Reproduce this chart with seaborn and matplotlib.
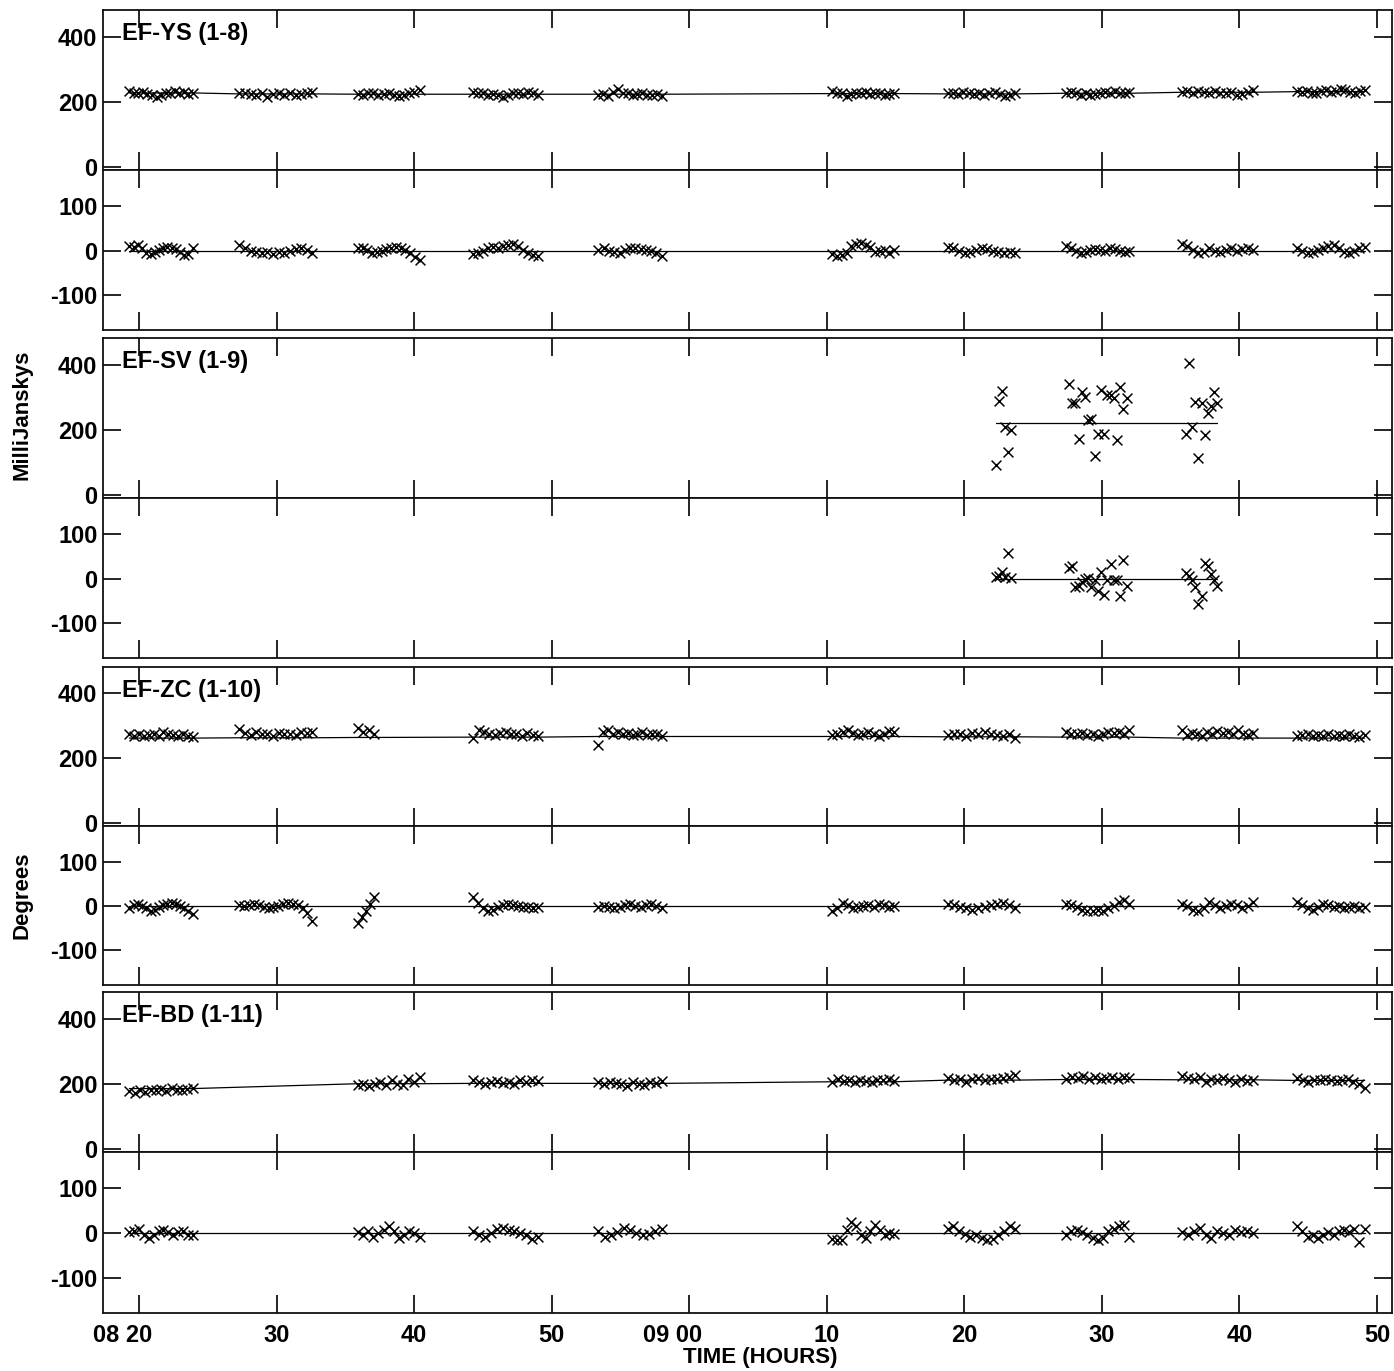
import numpy as np
import pandas as pd
import matplotlib
matplotlib.use("Agg")
import matplotlib.pyplot as plt
import seaborn as sns
from matplotlib.transforms import ScaledTranslation, blended_transform_factory

sns.set_style("ticks")
plt.rcParams["font.family"] = ["Liberation Sans", "DejaVu Sans"]
plt.rcParams["font.weight"] = "bold"
plt.rcParams["text.color"] = "black"
plt.rcParams["axes.labelcolor"] = "black"
plt.rcParams["xtick.color"] = "black"
plt.rcParams["ytick.color"] = "black"

# ---------------- data (time in minutes after 08:00) ----------------
BASELINES = ["EF-YS (1-8)", "EF-SV (1-9)", "EF-ZC (1-10)", "EF-BD (1-11)"]

YS_START = [19.3, 27.3, 35.9, 44.3, 53.4, 70.4, 78.8, 87.4, 95.8, 104.2]
YS_END = [23.9, 32.6, 40.4, 49.0, 58.0, 74.9, 83.7, 92.0, 101.0, 109.1]
YS_MODEL = [227, 224, 223, 223, 223, 225, 224, 226, 229, 231]
YS_AMP = [
    [232, 228, 226, 230, 224, 220, 214, 222, 226, 228, 232, 226, 230, 224, 228],
    [228, 226, 224, 222, 228, 216, 224, 226, 220, 228, 222, 224, 226, 230],
    [224, 222, 226, 228, 220, 224, 226, 222, 218, 222, 226, 230, 236],
    [230, 226, 228, 222, 224, 220, 216, 222, 226, 228, 224, 230, 226, 222],
    [220, 224, 218, 230, 240, 226, 228, 222, 224, 226, 220, 222, 224, 218],
    [232, 228, 226, 218, 224, 228, 226, 230, 224, 228, 226, 220, 224, 228],
    [226, 228, 224, 230, 226, 224, 228, 222, 226, 230, 224, 218, 222, 226],
    [228, 230, 226, 222, 228, 220, 224, 226, 230, 228, 232, 226, 228, 230],
    [230, 232, 228, 234, 230, 226, 232, 228, 226, 230, 222, 224, 230, 236],
    [232, 230, 234, 228, 226, 232, 236, 230, 234, 238, 236, 230, 226, 232, 236],
]
YS_PHS = [
    [10, 8, 12, 5, -5, -8, -3, 2, 5, 8, 6, 4, -2, -10, -8, 5],
    [12, 5, 0, -2, -5, -3, -8, -2, -5, 0, 3, 5, 2, -5],
    [5, 6, 2, -5, -3, 0, 3, 5, 8, 6, 2, -5, -15, -22],
    [-8, -5, 0, 5, 8, 6, 10, 12, 15, 10, 2, -5, -10, -12],
    [2, 5, 0, -3, -5, 2, 5, 6, 4, 2, 0, -5, -12],
    [-8, -12, -10, -5, 10, 15, 18, 12, 8, -3, 0, 2, -5, 2],
    [8, 5, 0, -5, -3, 2, 5, 3, 0, -2, -5, -3, -5],
    [10, 5, 0, -5, -3, 2, 3, 2, 0, 5, 3, 0, -2, 0],
    [15, 10, 2, -5, -3, 5, 0, -2, 2, 5, 0, 3, 5, 2],
    [5, 0, -5, -3, 2, 5, 10, 12, 5, -2, -5, 0, 5, 8],
]

SV_START = [82.3, 87.6, 96.1]
SV_END = [83.4, 91.8, 98.4]
SV_MODEL = [222, 222, 222]
SV_AMP = [
    [92, 289, 320, 209, 132, 200],
    [341, 283, 283, 172, 317, 301, 231, 234, 120, 188, 323, 188, 308, 308, 296, 169, 332, 265, 298],
    [188, 406, 209, 286, 114, 283, 185, 252, 274, 317, 283],
]
SV_PHS = [
    [4, 7, 16, 3, 57, 1],
    [25, 29, -19, -16, -8, -1, 1, -19, -3, -27, 16, -37, -4, 34, -3, -3, -39, 43, -17],
    [13, 7, -2, -19, -57, -38, 35, 28, 10, -4, -17],
]

ZC_START = [19.3, 27.3, 35.9, 44.3, 53.4, 70.4, 78.8, 87.4, 95.8, 104.2]
ZC_END = [23.9, 32.6, 37.1, 49.0, 58.0, 74.9, 83.7, 92.0, 101.0, 109.1]
ZC_MODEL = [262, 263, 264, 265, 267, 267, 266, 265, 262, 262]
ZC_AMP = [
    [276, 270, 274, 268, 272, 276, 270, 280, 274, 272, 270, 274, 268, 266],
    [290, 278, 272, 280, 274, 276, 270, 278, 274, 276, 272, 280, 278, 282],
    [292, 280, 288, 276],
    [262, 286, 280, 276, 272, 278, 280, 276, 274, 270, 278, 272, 268],
    [240, 282, 286, 276, 280, 274, 278, 272, 276, 280, 272, 274, 276, 270],
    [272, 276, 280, 286, 278, 272, 276, 282, 274, 270, 276, 284, 280],
    [272, 276, 274, 270, 278, 276, 280, 274, 272, 270, 276, 262],
    [280, 276, 274, 278, 272, 276, 270, 274, 280, 278, 282, 276, 286],
    [286, 272, 278, 274, 270, 280, 276, 284, 278, 282, 274, 286, 276, 272, 278],
    [270, 272, 274, 268, 272, 270, 274, 270, 272, 268, 274, 270, 266, 272],
]
ZC_PHS = [
    [-5, 2, 5, 0, -5, -10, -8, -3, 2, 5, 8, 5, 0, -5, -12, -18],
    [2, 0, 3, 5, 2, -2, -5, -3, 0, 5, 8, 5, 2, -5, -15, -34],
    [-38, -25, -10, 5, 20],
    [20, 8, -5, -12, -8, -3, 2, 5, 2, 0, -2, -3, -5, -3],
    [-2, 0, -3, -5, -2, 2, 5, 0, -3, 2, 5, 0, -5],
    [-10, -5, 8, 2, -5, -3, 0, 2, -3, 5, 2, -2, 0],
    [5, 2, -3, -5, -8, -5, -3, 2, 5, 8, 2, -5],
    [5, 2, -3, -8, -10, -12, -8, -10, -5, 0, 10, 15, 5],
    [5, 0, -8, -12, -5, 10, 2, -5, 0, 5, 2, -5, 0, 10],
    [10, 2, -5, -8, -3, 5, 2, -3, 0, -5, -3, 0, -5, -2],
]

BD_START = [19.3, 35.9, 44.3, 53.4, 70.4, 78.8, 87.4, 95.8, 104.2]
BD_END = [23.9, 40.4, 49.0, 58.0, 74.9, 83.7, 92.0, 101.0, 109.1]
BD_MODEL = [185, 200, 201, 201, 206, 211, 213, 212, 210]
BD_AMP = [
    [178, 172, 180, 176, 182, 180, 184, 178, 186, 182, 180, 184, 186],
    [196, 200, 192, 198, 204, 196, 210, 200, 196, 214, 206, 222],
    [210, 206, 200, 204, 208, 202, 206, 200, 210, 204, 212, 208],
    [204, 200, 206, 202, 198, 192, 204, 200, 196, 206, 202, 208],
    [206, 214, 208, 212, 204, 210, 208, 206, 212, 210, 214, 208],
    [218, 212, 216, 206, 214, 218, 212, 216, 214, 218, 222, 228],
    [214, 222, 218, 224, 216, 220, 214, 218, 220, 216, 222, 218],
    [224, 218, 214, 220, 206, 216, 212, 218, 210, 206, 214, 208, 212],
    [218, 212, 206, 210, 212, 214, 210, 208, 212, 214, 206, 200, 188],
]
BD_PHS = [
    [2, 5, 10, -5, -10, -5, 5, 8, 2, -5, 3, 5, -5, -3],
    [2, -3, 5, -8, 0, 8, 15, 5, -10, -5, 5, 0, -8],
    [5, -3, -8, 0, 10, 12, 8, 5, 0, -5, -12, -8],
    [5, -8, -5, 2, 12, 8, 0, -5, -2, 5, 10],
    [-12, -15, -15, 8, 25, 15, -5, -10, 5, 18, 8, -5, 0, -2],
    [10, 15, 5, -2, -8, -5, -10, -15, -12, -5, 5, 15, 10],
    [-5, 5, 8, 2, -5, -10, -15, -10, 5, 10, 15, 18, -8],
    [2, -3, 5, 12, -5, -10, 5, 0, -5, 8, 3, 5, 0],
    [15, 5, -8, -5, -10, -3, 2, -5, 5, 8, 2, 10, -20, 10],
]

TICK_POS = [20, 30, 40, 50, 60, 70, 80, 90, 100, 110]
TICK_LABELS = ["08 20", "30", "40", "50", "09 00", "10", "20", "30", "40", "50"]

# ---------------- figure layout ----------------
W, H = 1394, 1371
fig = plt.figure(figsize=(W / 100, H / 100), dpi=100)

group_px = [(10, 170, 330), (338, 498, 658), (667, 826, 985), (992, 1152, 1313)]
left_px, right_px = 103, 1392


def make_ax(top, bottom):
    return fig.add_axes([left_px / W, 1 - bottom / H, (right_px - left_px) / W, (bottom - top) / H])


def sample_frame(starts, ends, values):
    rows = []
    for s, e, vals in zip(starts, ends, values):
        t = np.linspace(s, e, len(vals))
        rows.extend(zip(t, vals))
    return pd.DataFrame(rows, columns=["t", "v"])


def model_frame(starts, ends, model):
    rows = []
    for s, e, m in zip(starts, ends, model):
        rows.append((s, m))
        rows.append((e, m))
    return pd.DataFrame(rows, columns=["t", "m"])


datasets = [
    (YS_START, YS_END, YS_AMP, YS_PHS, YS_MODEL),
    (SV_START, SV_END, SV_AMP, SV_PHS, SV_MODEL),
    (ZC_START, ZC_END, ZC_AMP, ZC_PHS, ZC_MODEL),
    (BD_START, BD_END, BD_AMP, BD_PHS, BD_MODEL),
]

XLIM = (17.38, 111.09)
AMP_LIM = (-10, 482)
PHS_LIM = (-178, 181)


def style(ax, yticks, ylim, bottom_labels):
    ax.set_xlim(*XLIM)
    ax.set_ylim(*ylim)
    ax.set_xticks(TICK_POS)
    ax.set_yticks(yticks)
    ax.set_yticklabels([str(v) for v in yticks])
    ax.tick_params(direction="in", length=13, width=1.2, top=True, right=True,
                   labelsize=17, pad=4, colors="black")
    ax.tick_params(axis="x", pad=8)
    if bottom_labels:
        ax.set_xticklabels(TICK_LABELS)
        for lab in ax.get_xticklabels():
            lab.set_fontweight("bold")
            lab.set_color("black")
            if " " in lab.get_text():
                lab.set_transform(lab.get_transform() + ScaledTranslation(-11.8 / 72, 0, fig.dpi_scale_trans))
    else:
        ax.set_xticklabels([])
    for lab in ax.get_yticklabels():
        lab.set_fontweight("bold")
        lab.set_color("black")
    for sp in ax.spines.values():
        sp.set_visible(True)
        sp.set_linewidth(1.3)
        sp.set_color("#111111")
    ax.set_xlabel("")
    ax.set_ylabel("")


for g, (name, (st, en, amp, phs, model)) in enumerate(zip(BASELINES, datasets)):
    top, mid, bot = group_px[g]
    adf = sample_frame(st, en, amp)
    pdf = sample_frame(st, en, phs)
    ldf = model_frame(st, en, model)
    ax_a = make_ax(top, mid)
    ax_p = make_ax(mid, bot)

    sns.lineplot(data=ldf, x="t", y="m", ax=ax_a, color="black", lw=0.9, sort=False, estimator=None)
    sns.scatterplot(data=adf, x="t", y="v", ax=ax_a, marker="x", color="black", s=50, linewidth=1.1)
    sns.lineplot(data=ldf.assign(m=0.0), x="t", y="m", ax=ax_p, color="black", lw=0.9, sort=False, estimator=None)
    sns.scatterplot(data=pdf, x="t", y="v", ax=ax_p, marker="x", color="black", s=50, linewidth=1.1)

    style(ax_a, [0, 200, 400], AMP_LIM, False)
    style(ax_p, [-100, 0, 100], PHS_LIM, g == 3)

    tr = blended_transform_factory(ax_a.transAxes, ax_a.transData)
    ax_a.text((122 - left_px) / (right_px - left_px), 410, name, transform=tr,
              fontsize=17, fontweight="bold", va="center", ha="left", color="black")

fig.text(760 / W, 1 - 1358 / H, "TIME (HOURS)", fontsize=16, fontweight="bold", ha="center", va="center", color="black")
fig.text(22 / W, 1 - 415 / H, "MilliJanskys", fontsize=16, fontweight="bold", rotation=90, ha="center", va="center", color="black")
fig.text(22 / W, 1 - 895 / H, "Degrees", fontsize=16, fontweight="bold", rotation=90, ha="center", va="center", color="black")

fig.savefig("out.png", dpi=100)
